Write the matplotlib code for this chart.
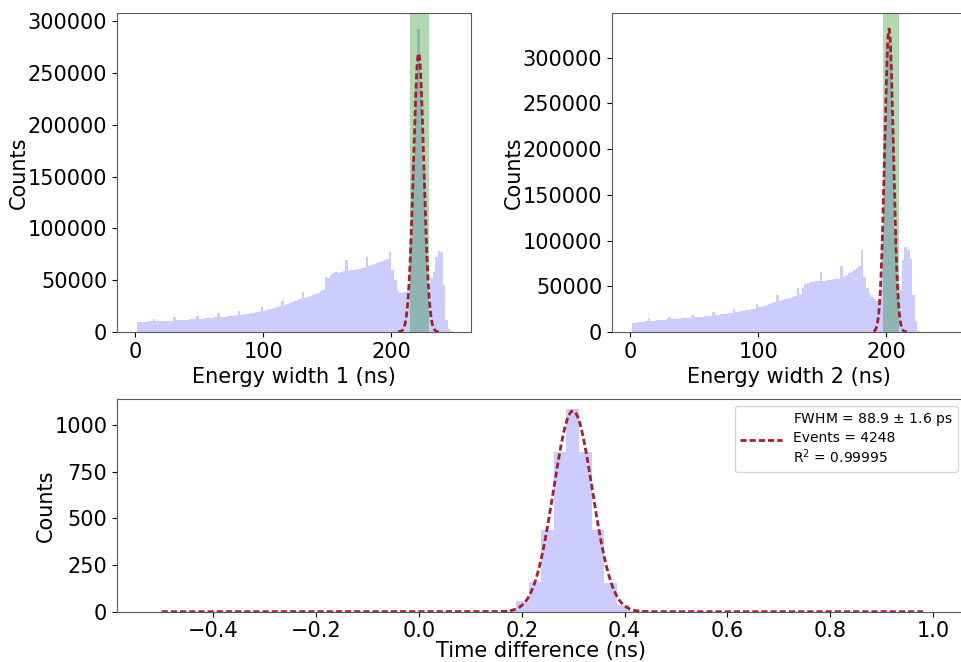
import matplotlib.pyplot as plt
import numpy as np

# energy width histograms, 2 ns bins from 0 to 250 ns
e_edges = np.arange(0, 252, 2)
counts_1 = [0, 9500, 9900, 10000, 10100, 10200, 10300, 12500, 10400, 10500,
            10600, 10700, 10800, 10900, 11000, 14200, 11200, 11400, 11500, 11700,
            11900, 12100, 12300, 12500, 15700, 12700, 12900, 13100, 13300, 13500,
            13800, 14000, 18000, 14300, 14600, 14900, 15200, 15500, 15800, 16200,
            20600, 16600, 17000, 17400, 17800, 18200, 18600, 19000, 19500, 24400,
            20200, 21000, 21800, 22600, 23400, 24200, 25000, 29900, 26500, 27300,
            28100, 28900, 29700, 30500, 31500, 38900, 33000, 34000, 35000, 36000,
            37000, 38000, 39500, 41000, 53400, 52000, 55000, 56500, 57500, 57000,
            58000, 58500, 69500, 59000, 59500, 60000, 60500, 61000, 61500, 62000,
            72700, 64000, 65000, 66000, 67000, 67500, 68500, 69500, 70500, 77500,
            60000, 50000, 40000, 38000, 38000, 39000, 42000, 90000, 165000, 240000,
            293000, 235000, 160000, 90000, 40000, 52000, 58000, 72000, 78000, 77000,
            45000, 12000, 3000, 500, 0]
counts_2 = [0, 9800, 10200, 10500, 10800, 11200, 11600, 15000, 12000, 12300,
            12600, 12900, 13100, 13400, 13700, 16000, 14000, 14200, 14400, 14600,
            14800, 15000, 15300, 15600, 18600, 16000, 16300, 16600, 16900, 17200,
            17500, 17900, 22200, 18600, 19000, 19400, 19800, 20200, 20600, 21000,
            25200, 21800, 22300, 22800, 23300, 23800, 24400, 25000, 25700, 30600,
            27000, 27800, 28600, 29500, 30500, 31500, 32500, 40500, 34000, 35000,
            35800, 36500, 37000, 38000, 39000, 47800, 42000, 48000, 52000, 54000,
            55000, 55000, 55500, 56000, 66000, 55500, 56000, 56500, 57000, 57500,
            58000, 58500, 72200, 60500, 62000, 64000, 66000, 68000, 70000, 72000,
            89700, 60000, 48000, 42000, 38000, 36000, 34000, 36000, 110000, 220000,
            315000, 315000, 220000, 110000, 42000, 46000, 78800, 93300, 90000, 80000,
            40000, 12000, 1500, 500, 300, 200, 200, 100, 100, 100,
            100, 100, 100, 0, 0]

# selection windows and gaussian fits (amplitude, mean, sigma, plot range)
window_1 = (214.8, 229.6)
window_2 = (197.0, 209.4)
fit_1 = (269000, 221.2, 4.0, 205, 239)
fit_2 = (331500, 202.0, 3.4, 190, 216)

# time difference histogram, 61 bins from -0.5 to 1.0 ns
t_edges = np.linspace(-0.5, 1.0, 62)
t_counts = [0] * 27 + [5, 57, 161, 437, 853, 1083, 853, 437, 155, 35, 5] + [0] * 23
t_fit = (1075, 0.2995, 0.0889 / 2.3548, -0.5, 0.98)
legend_text = 'FWHM = 88.9 $\\pm$ 1.6 ps\nEvents = 4248\nR$^2$ = 0.99995'

fit_color = '#a51f2d'
hist_color = 'blue'
fs = 15


def gauss(x, a, mu, sig):
    return a * np.exp(-(x - mu)**2 / (2 * sig**2))


def fit_curve(ax, p, n=400):
    xx = np.linspace(p[3], p[4], n)
    line, = ax.plot(xx, gauss(xx, p[0], p[1], p[2]), color=fit_color, lw=2,
                    dashes=(2.2, 1.1), zorder=4)
    return line


fig = plt.figure(figsize=(9.61, 6.62), dpi=100)
ax1 = fig.add_axes([0.1217, 0.4985, 0.3684, 0.4819])
ax2 = fig.add_axes([0.6368, 0.4985, 0.3684, 0.4819])
ax3 = fig.add_axes([0.1217, 0.076, 0.8826, 0.3213])

for ax, counts, win, fit, lab, ylim in [
        (ax1, counts_1, window_1, fit_1, 'Energy width 1 (ns)', 308000),
        (ax2, counts_2, window_2, fit_2, 'Energy width 2 (ns)', 349000)]:
    centers = (e_edges[:-1] + e_edges[1:]) / 2
    ax.hist(centers, bins=e_edges, weights=counts, color=hist_color, alpha=0.2)
    ax.axvspan(win[0], win[1], color='green', alpha=0.3, lw=0, zorder=3)
    fit_curve(ax, fit)
    ax.set_xlim(-14, 262)
    ax.set_ylim(0, ylim)
    ax.set_xlabel(lab, fontsize=fs)
    ax.set_ylabel('Counts', fontsize=fs, labelpad=-1)

t_centers = (t_edges[:-1] + t_edges[1:]) / 2
ax3.hist(t_centers, bins=t_edges, weights=t_counts, color=hist_color, alpha=0.2)
fit_curve(ax3, t_fit, 600).set_label(legend_text)
ax3.set_xlim(-0.587, 1.062)
ax3.set_ylim(0, 1139)
ax3.set_yticks([0, 250, 500, 750, 1000])
ax3.set_xticks([-0.4, -0.2, 0.0, 0.2, 0.4, 0.6, 0.8, 1.0])
ax3.set_xlabel('Time difference (ns)', fontsize=fs, labelpad=0)
ax3.set_ylabel('Counts', fontsize=fs, labelpad=-1)
ax3.legend(loc='upper right', fontsize=10, handlelength=3)

for ax in [ax1, ax2, ax3]:
    ax.tick_params(labelsize=fs)
    for s in ax.spines.values():
        s.set_color('0.35')

fig.savefig('out.png', dpi=100)
